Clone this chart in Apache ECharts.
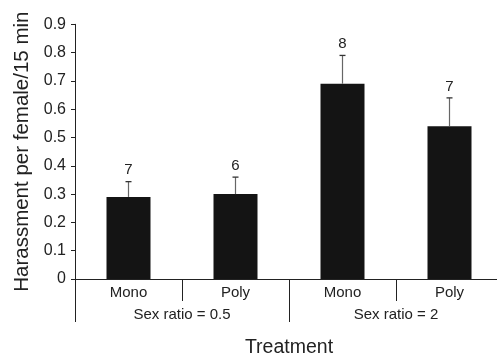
<!DOCTYPE html>
<html>
<head>
<meta charset="utf-8">
<script src="https://cdn.jsdelivr.net/npm/echarts@6/dist/echarts.min.js"></script>
<style>
  html, body { margin: 0; padding: 0; background: #fff; }
  #chart { width: 497px; height: 355px; }
</style>
</head>
<body>
<div id="chart"></div>
<script>
// Treatment levels (inner) and sex-ratio groups (outer)
var categories = ['Mono', 'Poly', 'Mono', 'Poly'];
var groups = ['Sex ratio = 0.5', 'Sex ratio = 2'];
// Mean harassment per female per 15 min, with standard error
var means = [0.29, 0.30, 0.69, 0.54];
var errors = [0.054, 0.06, 0.10, 0.10];
// Sample sizes printed above each bar
var sampleSizes = [7, 6, 8, 7];
var yTicks = { min: 0, max: 0.9, step: 0.1 };

var FONT = 'Liberation Sans, Arial, sans-serif';
var INK = '#222';

var errData = means.map(function (m, i) { return [i, m, m + errors[i], sampleSizes[i]]; });

var chart = echarts.init(document.getElementById('chart'), null, { renderer: 'canvas' });
chart.setOption({
  animation: false,
  backgroundColor: '#fff',
  grid: { left: 75, right: -6, top: 24.3, bottom: 76, containLabel: false, outerBoundsMode: 'none' },
  xAxis: [
    {
      type: 'category',
      data: categories,
      position: 'bottom',
      boundaryGap: true,
      axisLine: { show: true, lineStyle: { color: INK, width: 1 } },
      axisTick: { show: true, inside: false, length: 22, alignWithLabel: false, interval: 0,
                  lineStyle: { color: INK, width: 1 } },
      axisLabel: { color: INK, fontFamily: FONT, fontSize: 15, margin: 6, interval: 0 },
      splitLine: { show: false }
    },
    {
      type: 'category',
      data: groups,
      position: 'bottom',
      offset: 0,
      boundaryGap: true,
      axisLine: { show: false },
      axisTick: { show: true, inside: false, length: 43, interval: 0,
                  lineStyle: { color: INK, width: 1 } },
      axisLabel: { color: INK, fontFamily: FONT, fontSize: 15, margin: 28, interval: 0 },
      name: 'Treatment',
      nameLocation: 'middle',
      nameGap: 59,
      nameTextStyle: { color: INK, fontFamily: FONT, fontSize: 19.5 },
      splitLine: { show: false }
    }
  ],
  yAxis: {
    type: 'value',
    min: yTicks.min,
    max: yTicks.max,
    interval: yTicks.step,
    name: 'Harassment per female/15 min',
    nameLocation: 'middle',
    nameGap: 35,
    nameTextStyle: { color: INK, fontFamily: FONT, fontSize: 20.5 },
    axisLine: { show: true, lineStyle: { color: INK, width: 1 } },
    axisTick: { show: true, inside: false, length: 4, lineStyle: { color: INK, width: 1 } },
    axisLabel: {
      color: INK, fontFamily: FONT, fontSize: 16, margin: 9,
      formatter: function (v) { return v === 0 ? '0' : v.toFixed(1); }
    },
    splitLine: { show: false }
  },
  series: [
    {
      type: 'bar',
      data: means,
      barWidth: 44,
      itemStyle: { color: '#141414' },
      z: 2
    },
    {
      type: 'custom',
      data: errData,
      z: 3,
      renderItem: function (params, api) {
        var base = api.coord([api.value(0), api.value(1)]);
        var top = api.coord([api.value(0), api.value(2)]);
        var cap = 3;
        return {
          type: 'group',
          children: [
            { type: 'line', shape: { x1: base[0], y1: base[1], x2: top[0], y2: top[1] },
              style: { stroke: '#666', lineWidth: 1.2 } },
            { type: 'line', shape: { x1: top[0] - cap, y1: top[1], x2: top[0] + cap, y2: top[1] },
              style: { stroke: '#333', lineWidth: 1.3 } },
            { type: 'text', x: top[0], y: top[1] - 4,
              style: { text: String(api.value(3)), fill: INK, font: '15px ' + FONT,
                       align: 'center', verticalAlign: 'bottom' } }
          ]
        };
      }
    }
  ]
});
</script>
</body>
</html>
